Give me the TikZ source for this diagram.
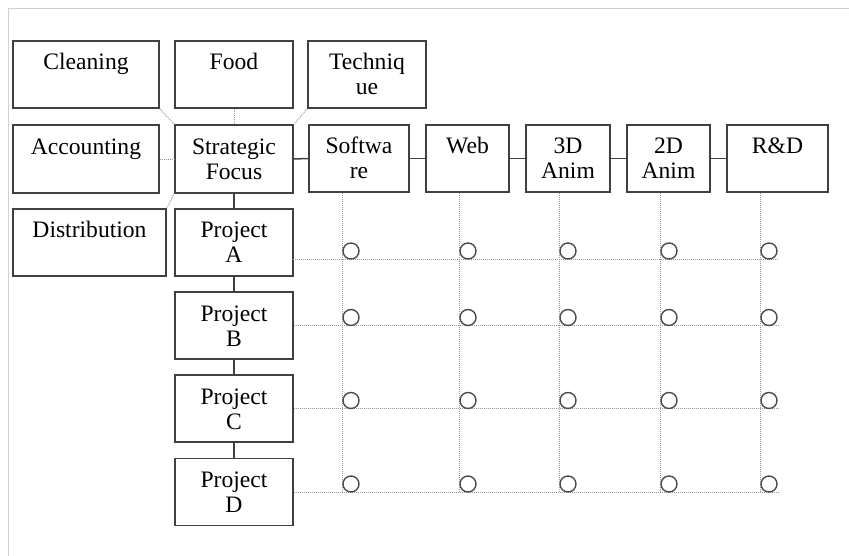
\documentclass[tikz,border=0pt]{standalone}
\usepackage{fontspec}
\setmainfont{Liberation Serif}
\newcommand{\toprl}{\rule{0pt}{23.5pt}}
\tikzset{
  box/.style={draw=black!75, line width=1.6pt, rectangle, inner sep=0pt,
    align=center, font=\fontsize{23.6}{25}\selectfont, text=black},
  conn/.style={draw=black!75, line width=1.5pt},
  gridln/.style={draw=black!40, line width=0.9pt, dash pattern=on 1pt off 1pt},
  mark dot/.style={draw=black!70, line width=1.4pt, circle, minimum size=16pt, inner sep=0pt, fill=white},
  frameln/.style={draw=black!18, line width=1.5pt}
}
\begin{document}
\begin{tikzpicture}[x=1pt,y=-1pt]
\useasboundingbox (0,0) rectangle (849,556);
\coordinate (fr1) at (849,8.5);
\coordinate (fr0) at (8.5,8.5);
\coordinate (fr2) at (8.5,556);
\draw[frameln] (fr1) -- (fr0) -- (fr2);

% top-left cluster
\node[box, minimum width=146pt, minimum height=67pt] (clean) at (86,74.5) {\toprl Cleaning\\\strut};
\node[box, minimum width=118pt, minimum height=67pt] (food) at (234,74.5) {\toprl Food\\\strut};
\node[box, minimum width=118pt, minimum height=67pt] (tech) at (367,74.5) {\toprl Techniq\\\strut ue};
\node[box, minimum width=146pt, minimum height=68pt] (acct) at (86,159) {\toprl Accounting\\\strut};
\node[box, minimum width=118pt, minimum height=68pt] (sf) at (234,159) {\toprl Strategic\\\strut Focus};
\node[box, minimum width=153pt, minimum height=67pt] (dist) at (89.5,242.5) {\toprl Distribution\\\strut};

% top row
\node[box, minimum width=100pt, minimum height=67pt] (soft) at (359,158.5) {\toprl Softwa\\\strut re};
\node[box, minimum width=83pt, minimum height=67pt] (web) at (467.5,158.5) {\toprl Web\\\strut};
\node[box, minimum width=84pt, minimum height=67pt] (d3) at (568,158.5) {\toprl 3D\\\strut Anim};
\node[box, minimum width=83pt, minimum height=67pt] (d2) at (668.5,158.5) {\toprl 2D\\\strut Anim};
\node[box, minimum width=101pt, minimum height=67pt] (rd) at (777.5,158.5) {\toprl R\&D\\\strut};

% projects
\node[box, minimum width=118pt, minimum height=67pt] (pA) at (234,242.5) {\toprl Project\\\strut A};
\node[box, minimum width=118pt, minimum height=67pt] (pB) at (234,325.5) {\toprl Project\\\strut B};
\node[box, minimum width=118pt, minimum height=67pt] (pC) at (234,408.5) {\toprl Project\\\strut C};
\node[box, minimum width=118pt, minimum height=67pt] (pD) at (234,492) {\toprl Project\\\strut D};

% dotted links to strategic focus
\draw[gridln] (clean.south east) -- (sf.north west);
\draw[gridln] (food.south) -- (sf.north);
\draw[gridln] (tech.south west) -- (sf.north east);
\draw[gridln] (acct.east) -- (sf.west);
\draw[gridln] (dist.north east) -- (sf.south west);

% solid links
\draw[conn] (sf.east) -- (soft.west);
\draw[conn] (soft.east) -- (web.west);
\draw[conn] (web.east) -- (d3.west);
\draw[conn] (d3.east) -- (d2.west);
\draw[conn] (d2.east) -- (rd.west);
\draw[conn] (sf.south) -- (pA.north);
\draw[conn] (pA.south) -- (pB.north);
\draw[conn] (pB.south) -- (pC.north);
\draw[conn] (pC.south) -- (pD.north);

% grid coordinates
\coordinate (vS) at (342,492);
\coordinate (vW) at (459,492);
\coordinate (v3) at (559,492);
\coordinate (v2) at (660,492);
\coordinate (vR) at (760,492);
\coordinate (hA0) at (293,259);
\coordinate (hA) at (778,259);
\coordinate (hB) at (778,325.5);
\coordinate (hC) at (778,408.5);
\coordinate (hD) at (778,492);

\draw[gridln] (soft.south -| vS) -- (vS);
\draw[gridln] (web.south -| vW) -- (vW);
\draw[gridln] (d3.south -| v3) -- (v3);
\draw[gridln] (d2.south -| v2) -- (v2);
\draw[gridln] (rd.south -| vR) -- (vR);
\draw[gridln] (hA0) -- (hA);
\draw[gridln] (pB.east) -- (hB);
\draw[gridln] (pC.east) -- (hC);
\draw[gridln] (pD.east) -- (hD);

% circles
\foreach \r/\y in {A/251,B/317.5,C/400.5,D/484}{
  \foreach \c/\x in {S/351,W/468,3/568,2/669,R/769}{
    \node[mark dot] (m\r\c) at (\x,\y) {};
  }
}
\end{tikzpicture}
\end{document}
